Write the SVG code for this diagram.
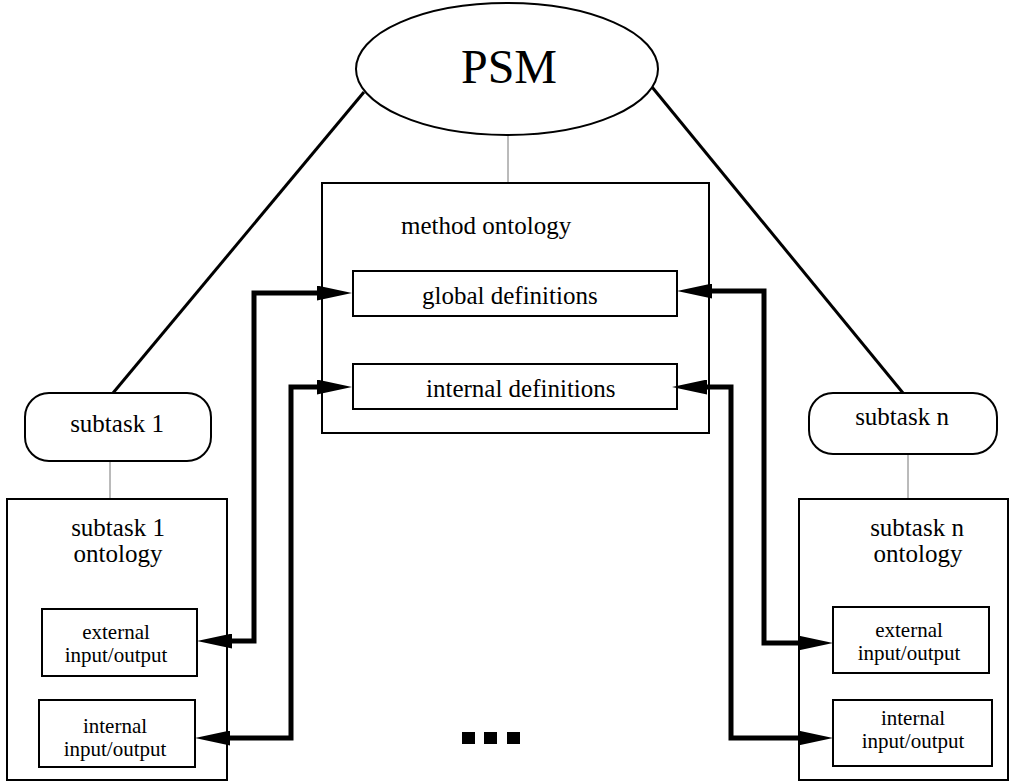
<svg xmlns="http://www.w3.org/2000/svg" width="1011" height="783" viewBox="0 0 1011 783">
<style>
  .box { fill: #fff; stroke: #000; stroke-width: 2; }
  .t { font-family: "Liberation Serif", "Times New Roman", serif; fill: #000; }
  .big { font-size: 25px; }
  .small { font-size: 21px; }
  .thin { stroke: #777; stroke-width: 1; fill: none; }
  .diag { stroke: #000; stroke-width: 3; fill: none; }
  .arr { stroke: #000; stroke-width: 5; fill: none; stroke-linejoin: miter; marker-start: url(#ah); marker-end: url(#ah); }
</style>
<defs>
  <marker id="ah" markerUnits="userSpaceOnUse" viewBox="0 0 35 15" markerWidth="35" markerHeight="15" refX="0" refY="7.5" orient="auto-start-reverse">
    <path d="M0,0 L35,7.5 L0,15 z" fill="#000"/>
  </marker>
</defs>
<rect width="1011" height="783" fill="#fff"/>

<g id="connectors">
  <line class="diag" x1="364" y1="92" x2="113" y2="393"/>
  <line class="diag" x1="652" y1="87" x2="903" y2="393"/>
  <line class="thin" x1="508" y1="135" x2="508" y2="183"/>
  <line class="thin" x1="110" y1="461" x2="110" y2="499"/>
  <line class="thin" x1="908" y1="454" x2="908" y2="499"/>
  <line x1="98" y1="680" x2="98" y2="698" stroke="#000" stroke-width="4"/>
</g>

<g id="psm">
  <ellipse class="box" cx="507" cy="69" rx="151" ry="66"/>
  <text class="t" x="509" y="83" font-size="48" text-anchor="middle">PSM</text>
</g>

<g id="method-ontology">
  <rect class="box" x="322" y="183" width="387" height="250"/>
  <text class="t big" x="401" y="234">method ontology</text>
</g>

<g id="global-definitions">
  <rect class="box" x="353" y="271" width="324" height="45"/>
  <text class="t big" x="422" y="304">global definitions</text>
</g>

<g id="internal-definitions">
  <rect class="box" x="353" y="364" width="324" height="45"/>
  <text class="t big" x="426" y="397">internal definitions</text>
</g>

<g id="subtask-1">
  <rect class="box" x="25" y="393" width="186" height="68" rx="24" ry="24"/>
  <text class="t big" x="117" y="432" text-anchor="middle">subtask 1</text>
</g>

<g id="subtask-n">
  <rect class="box" x="809" y="393" width="188" height="61" rx="24" ry="24"/>
  <text class="t big" x="902" y="425" text-anchor="middle">subtask n</text>
</g>

<g id="subtask-1-ontology">
  <rect class="box" x="7" y="499" width="220" height="281"/>
  <text class="t big" x="118" y="536" text-anchor="middle">subtask 1</text>
  <text class="t big" x="118" y="562" text-anchor="middle">ontology</text>
</g>

<g id="subtask-n-ontology">
  <rect class="box" x="799" y="499" width="209" height="281"/>
  <text class="t big" x="917" y="536" text-anchor="middle">subtask n</text>
  <text class="t big" x="918" y="562" text-anchor="middle">ontology</text>
</g>

<g id="external-io-1">
  <rect class="box" x="42" y="609" width="155" height="67"/>
  <text class="t small" x="116" y="639" text-anchor="middle">external</text>
  <text class="t small" x="116" y="662" text-anchor="middle">input/output</text>
</g>

<g id="internal-io-1">
  <rect class="box" x="39" y="700" width="156" height="67"/>
  <text class="t small" x="115" y="733" text-anchor="middle">internal</text>
  <text class="t small" x="115" y="756" text-anchor="middle">input/output</text>
</g>

<g id="external-io-n">
  <rect class="box" x="833" y="607" width="156" height="66"/>
  <text class="t small" x="909" y="637" text-anchor="middle">external</text>
  <text class="t small" x="909" y="660" text-anchor="middle">input/output</text>
</g>

<g id="internal-io-n">
  <rect class="box" x="833" y="700" width="159" height="66"/>
  <text class="t small" x="913" y="725" text-anchor="middle">internal</text>
  <text class="t small" x="913" y="748" text-anchor="middle">input/output</text>
</g>

<g id="arrows">
  <path class="arr" d="M317,293 H254 V641 H232"/>
  <path class="arr" d="M317,387 H291 V738 H230"/>
  <path class="arr" d="M712,291 H764 V643 H798"/>
  <path class="arr" d="M707,387 H731 V738 H798"/>
</g>

<g id="ellipsis">
  <rect x="462" y="732" width="13" height="12" fill="#000"/>
  <rect x="484" y="732" width="13" height="12" fill="#000"/>
  <rect x="507" y="732" width="13" height="12" fill="#000"/>
</g>
</svg>
